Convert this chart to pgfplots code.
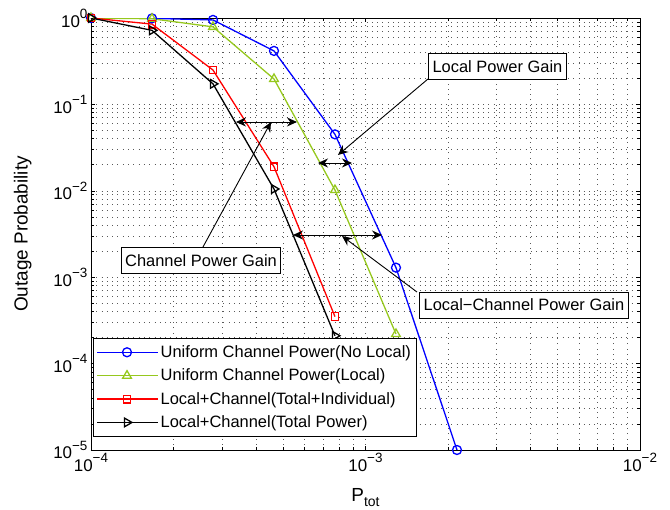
\documentclass[border=0pt]{standalone}
\usepackage{fontspec}
\setmainfont{Liberation Sans}
\usepackage{pgfplots}
\pgfplotsset{compat=1.18}
\usetikzlibrary{arrows.meta}
\definecolor{mgreen}{RGB}{150,200,30}
\newcommand\tl[1]{{\fontsize{17}{19}\selectfont 10\raisebox{0.52em}{\fontsize{13.5}{14}\selectfont#1}}}
\tikzset{
  dbl/.style={line width=0.9bp,{Stealth[length=10bp,width=9bp]}-{Stealth[length=10bp,width=9bp]}},
  sgl/.style={line width=0.9bp,-{Stealth[length=10bp,width=9bp]}},
  abox/.style={draw, fill=white, font=\fontsize{16.5}{18}\selectfont, inner xsep=4bp, minimum height=26bp, line width=0.8bp}
}
\begin{document}
\begin{tikzpicture}
\begin{axis}[
  scale only axis, width=549bp, height=432bp,
  xmode=log, ymode=log,
  xmin=1e-4, xmax=1e-2, ymin=1e-5, ymax=1,
  xtick={1e-4,1e-3,1e-2},
  xticklabels={\tl{−4},\tl{−3},\tl{−2}},
  ytick={1e-5,1e-4,1e-3,1e-2,1e-1,1},
  yticklabels={\tl{−5},\tl{−4},\tl{−3},\tl{−2},\tl{−1},\tl{0}},
  tick label style={font=\fontsize{17}{19}\selectfont},
  grid=both,
  major grid style={black!65, dash pattern=on 0.8bp off 4.5bp, line width=0.6bp},
  minor grid style={black!65, dash pattern=on 0.8bp off 4.5bp, line width=0.6bp},
  axis line style={line width=0.8bp},
  tick style={black, line width=0.6bp},
  xlabel={P\raisebox{-0.25em}{\fontsize{14}{14}\selectfont tot}},
  ylabel={Outage Probability},
  label style={font=\fontsize{19}{21}\selectfont},
  xlabel style={at={(axis description cs:0.5,-0.12)}, anchor=base},
  ylabel style={at={(axis description cs:-0.102,0.5)}, anchor=south},
  legend cell align=left,
  legend image code/.code={\path (0bp,0bp) -- (61bp,0bp); \draw[mark repeat=2,mark phase=2,#1] plot coordinates {(4bp,0bp)(30bp,0bp)(56bp,0bp)};},
  legend style={at={(axis description cs:0.0036,0.030)}, anchor=south west,
    font=\fontsize{16.5}{18}\selectfont, draw=black, line width=0.8bp,
    row sep=6bp, inner xsep=3bp, inner ysep=5.5bp},
]
\addplot[blue, line width=1.3bp, mark=o, mark size=4.5bp, mark options={solid}] coordinates {
 (1e-4,1) (1.6681e-4,0.99) (2.7826e-4,0.95) (4.6416e-4,0.416) (7.7426e-4,0.045) (1.2915e-3,1.29e-3) (2.1544e-3,1e-5)};
\addlegendentry{Uniform Channel Power(No Local)}
\addplot[mgreen, line width=1.3bp, mark=triangle, mark size=5bp, mark options={solid}] coordinates {
 (1e-4,1) (1.6681e-4,0.98) (2.7826e-4,0.79) (4.6416e-4,0.197) (7.7426e-4,0.0102) (1.2915e-3,2.2e-4)};
\addlegendentry{Uniform Channel Power(Local)}
\addplot[red, line width=1.3bp, mark=square, mark size=3.8bp, mark options={solid}] coordinates {
 (1e-4,1) (1.6681e-4,0.85) (2.7826e-4,0.25) (4.6416e-4,0.019) (7.7426e-4,3.5e-4)};
\addlegendentry{Local+Channel(Total+Individual)}
\addplot[black, line width=1.3bp, mark=triangle, mark size=5bp, mark options={solid, rotate=-90}] coordinates {
 (1e-4,1) (1.6681e-4,0.72) (2.7826e-4,0.173) (4.6416e-4,0.0105) (7.7426e-4,2.1e-4)};
\addlegendentry{Local+Channel(Total Power)}
% annotations
\draw[dbl] (rel axis cs:0.2641,0.7593) -- (rel axis cs:0.3752,0.7593);
\draw[sgl] (rel axis cs:0.2040,0.4699) -- (rel axis cs:0.3279,0.7593);
\node[abox] at (rel axis cs:0.2004,0.4387) {Channel Power Gain};
\draw[dbl] (rel axis cs:0.4135,0.6644) -- (rel axis cs:0.4754,0.6644);
\draw[sgl] (rel axis cs:0.6138,0.8588) -- (rel axis cs:0.4499,0.6829);
\node[abox] at (rel axis cs:0.7404,0.8877) {Local Power Gain};
\draw[dbl] (rel axis cs:0.3679,0.4977) -- (rel axis cs:0.5301,0.4977);
\draw[sgl] (rel axis cs:0.5938,0.3657) -- (rel axis cs:0.4572,0.4954);
\node[abox] at (rel axis cs:0.7887,0.3356) {Local−Channel Power Gain};
\end{axis}
\pgfresetboundingbox
\path[use as bounding box] ([xshift=-91bp,yshift=-60bp]current axis.south west) rectangle ([xshift=30bp,yshift=18bp]current axis.north east);
\end{tikzpicture}
\end{document}
